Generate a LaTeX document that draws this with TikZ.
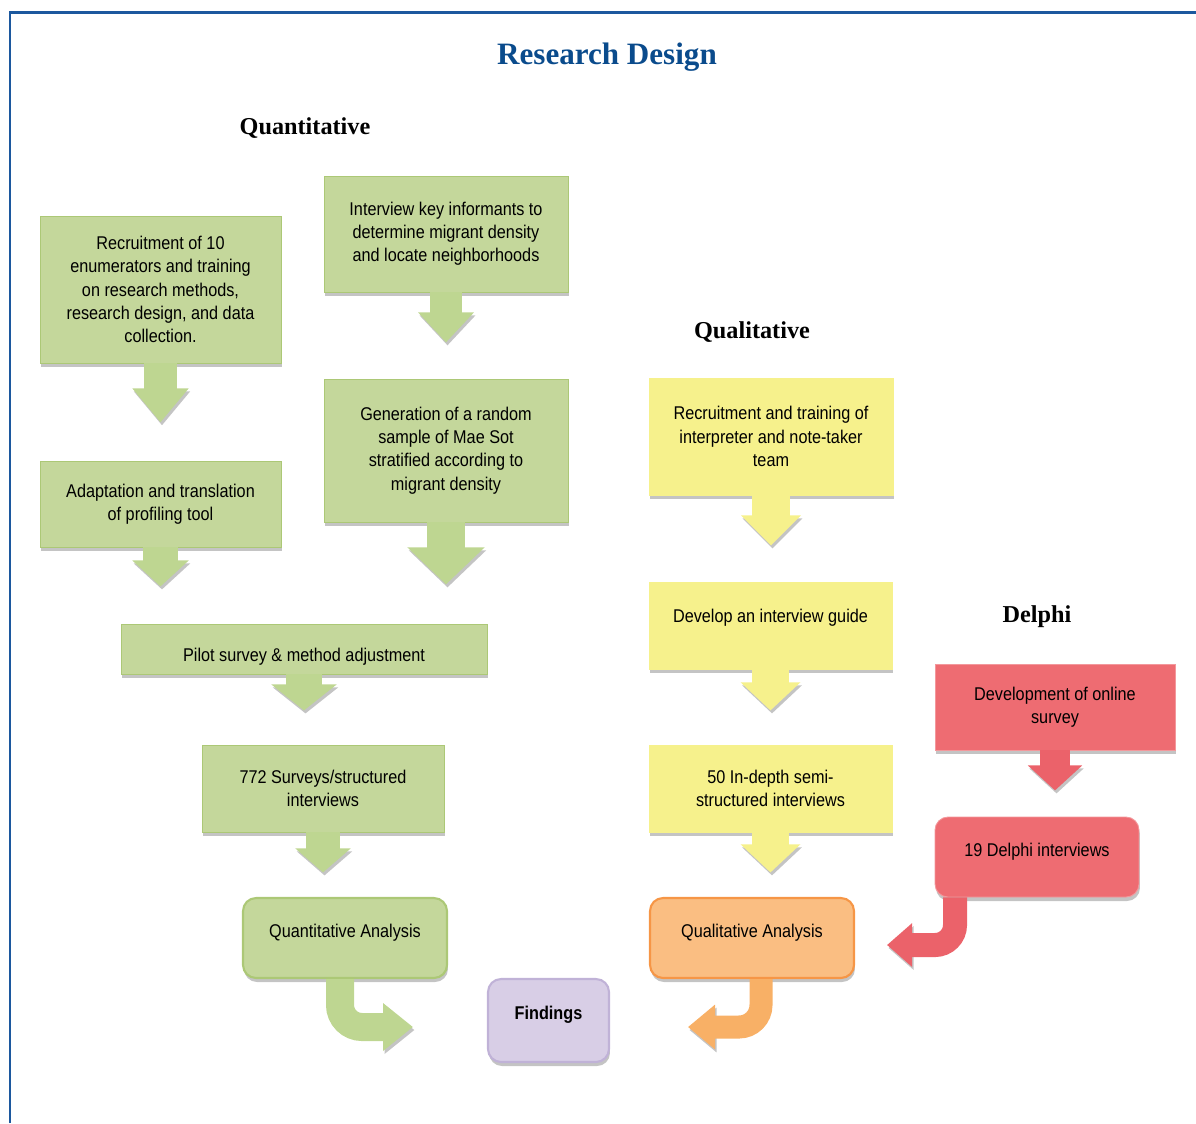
\documentclass[tikz,border=0pt]{standalone}
\usepackage{fontspec}
\setmainfont{Liberation Serif}
\newfontfamily\boxfont{Liberation Sans}[FakeStretch=0.88]
\usetikzlibrary{arrows.meta,calc,shadows}

\definecolor{frameblue}{RGB}{28,88,158}
\definecolor{titleblue}{RGB}{10,75,140}
\definecolor{greenF}{RGB}{196,215,155}
\definecolor{greenD}{RGB}{172,200,118}
\definecolor{greenA}{RGB}{190,214,145}
\definecolor{yellowF}{RGB}{246,241,140}
\definecolor{redF}{RGB}{238,108,114}
\definecolor{redA}{RGB}{235,98,106}
\definecolor{orangeF}{RGB}{250,190,130}
\definecolor{orangeD}{RGB}{246,150,70}
\definecolor{orangeA}{RGB}{248,176,102}
\definecolor{purpleF}{RGB}{216,206,230}
\definecolor{purpleD}{RGB}{192,178,215}
\definecolor{shadowgray}{RGB}{196,196,196}

\begin{document}
\begin{tikzpicture}
[x=0.02cm, y=-0.02cm,
 title/.style={text=titleblue, font=\bfseries\fontsize{17.7pt}{20pt}\selectfont},
 head/.style={font=\bfseries\fontsize{13.8pt}{16pt}\selectfont},
 box/.style={draw=greenD, fill=greenF, line width=0.5pt, align=center, inner sep=0,
   font=\boxfont\fontsize{10.5pt}{13.2pt}\selectfont,
   drop shadow={shadow xshift=0.02cm, shadow yshift=-0.08cm, fill=shadowgray, opacity=1}},
 roundbox/.style={box, rounded corners=0.26cm, line width=1.2pt},
 yellowbox/.style={box, draw=yellowF, fill=yellowF},
 redbox/.style={box, draw=redF!70!white, fill=redF},
 blk/.style n args={3}{line width=#1, -{Triangle[width=#2, length=#3]},
   preaction={draw=shadowgray, transform canvas={shift={(0.03cm,-0.06cm)}}}}]
\useasboundingbox (0,0) rectangle (1196,1123);
\draw [frameblue, line width=0.06cm] (10,1123) -- (10,12) -- (1196,12);

\node (title) [title] at (607,57) {Research Design};
\node (hq) [head] at (305,128) {Quantitative};
\node (hl) [head] at (752,332) {Qualitative};
\node (hd) [head] at (1037,617) {Delphi};

% quantitative strand
\node (q1) [box, minimum width=4.82cm, minimum height=2.94cm] at (160.5,289.5)
  {Recruitment of 10\\enumerators and training\\on research methods,\\research design, and data\\collection.};
\node (q2) [box, minimum width=4.88cm, minimum height=2.32cm] at (446,234)
  {Interview key informants to\\determine migrant density\\and locate neighborhoods};
\node (q3) [box, minimum width=4.88cm, minimum height=2.86cm] at (446,450.5)
  {Generation of a random\\sample of Mae Sot\\stratified according to\\migrant density};
\node (q4) [box, minimum width=4.82cm, minimum height=1.72cm] at (160.5,504)
  {Adaptation and translation\\of profiling tool};
\node (q5) [box, minimum width=7.32cm, minimum height=1.0cm, text height=16.7pt, text depth=2.2pt] at (304,649)
  {Pilot survey \& method adjustment};
\node (q6) [box, minimum width=4.84cm, minimum height=1.74cm] at (323,788.5)
  {772 Surveys/structured\\interviews};
\node (q7) [roundbox, minimum width=4.08cm, minimum height=1.6cm, text height=7.7pt, text depth=7.8pt] at (345,938)
  {Quantitative Analysis};

% findings
\node (f) [roundbox, draw=purpleD, fill=purpleF, minimum width=2.42cm, minimum height=1.66cm,
  text height=7.7pt, text depth=9pt,
  font=\boxfont\bfseries\fontsize{10.5pt}{13.2pt}\selectfont] at (548.5,1020.5) {Findings};

% qualitative strand
\node (l1) [yellowbox, minimum width=4.88cm, minimum height=2.34cm] at (771,436.5)
  {Recruitment and training of\\interpreter and note-taker\\team};
\node (l2) [yellowbox, minimum width=4.86cm, minimum height=1.74cm, text height=7.7pt, text depth=11.2pt] at (770.5,625.5)
  {Develop an interview guide};
\node (l3) [yellowbox, minimum width=4.86cm, minimum height=1.74cm] at (770.5,788.5)
  {50 In-depth semi-\\structured interviews};
\node (l4) [roundbox, draw=orangeD, fill=orangeF, minimum width=4.08cm, minimum height=1.6cm,
  text height=7.7pt, text depth=7.8pt] at (752,938) {Qualitative Analysis};

% delphi strand
\node (d1) [redbox, minimum width=4.8cm, minimum height=1.72cm] at (1055,707)
  {Development of online\\survey};
\node (d2) [redbox, rounded corners=0.26cm, minimum width=4.08cm, minimum height=1.6cm,
  text height=7.7pt, text depth=7.8pt] at (1037,857) {19 Delphi interviews};

\coordinate (q1t) at ($(q1.south)+(0,59)$);
\coordinate (q2t) at ($(q2.south)+(0,50)$);
\coordinate (q3t) at ($(q3.south)+(0,62)$);
\coordinate (q4t) at ($(q4.south)+(0,39)$);
\coordinate (q5t) at ($(q5.south)+(0,36)$);
\coordinate (q6t) at ($(q6.south)+(0,40)$);
\coordinate (q7t) at (413,1027);
\coordinate (l1t) at ($(l1.south)+(0,50)$);
\coordinate (l2t) at ($(l2.south)+(0,41)$);
\coordinate (l3t) at ($(l3.south)+(0,40)$);
\coordinate (l4t) at (688,1027);
\coordinate (d1t) at ($(d1.south)+(0,40)$);
\coordinate (d2t) at (887,945);

\draw [greenA, blk={0.68cm}{1.08cm}{0.68cm}] (q1) -- (q1t);
\draw [greenA, blk={0.64cm}{1.08cm}{0.6cm}] (q2) -- (q2t);
\draw [greenA, blk={0.76cm}{1.5cm}{0.74cm}] (q3) -- (q3t);
\draw [greenA, blk={0.72cm}{1.1cm}{0.52cm}] (q4) -- (q4t);
\draw [greenA, blk={0.72cm}{1.28cm}{0.52cm}] (q5) -- (q5t);
\draw [greenA, blk={0.68cm}{1.08cm}{0.48cm}] (q6) -- (q6t);
\draw [greenA, blk={0.56cm}{0.92cm}{0.6cm}, rounded corners=0.44cm] ($(q7.south)+(-5,0)$) |- (q7t);

\draw [yellowF, blk={0.76cm}{1.16cm}{0.6cm}] (l1) -- (l1t);
\draw [yellowF, blk={0.74cm}{1.16cm}{0.56cm}] (l2) -- (l2t);
\draw [yellowF, blk={0.74cm}{1.16cm}{0.56cm}] (l3) -- (l3t);
\draw [orangeA, blk={0.46cm}{0.86cm}{0.54cm}, rounded corners=0.44cm] ($(l4.south)+(9,0)$) |- (l4t);

\draw [redA, blk={0.6cm}{1.06cm}{0.5cm}] (d1) -- (d1t);
\draw [redA, blk={0.48cm}{0.84cm}{0.5cm}, rounded corners=0.4cm] ($(d2.south)+(-82,0)$) |- (d2t);
\end{tikzpicture}
\end{document}
